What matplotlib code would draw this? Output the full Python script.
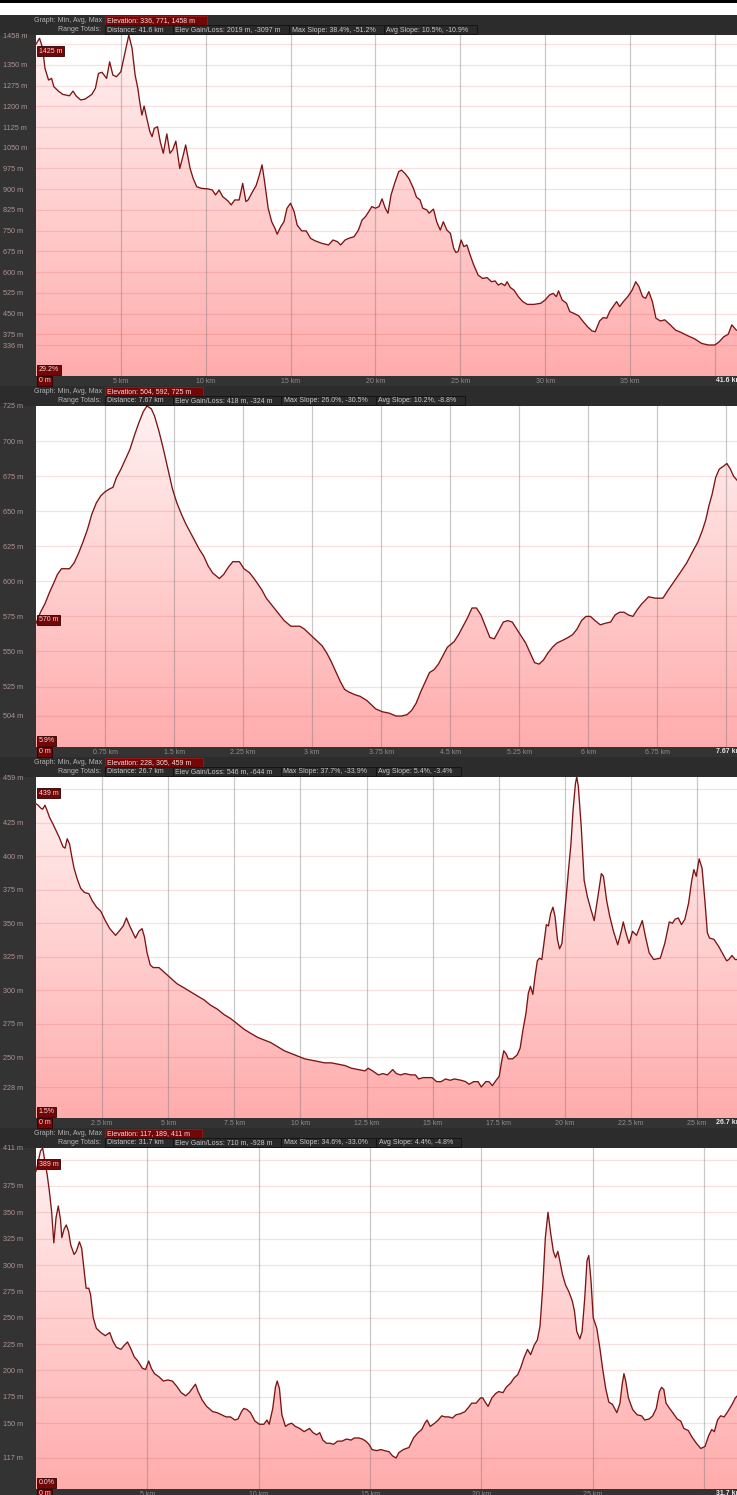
import matplotlib
matplotlib.use("Agg")
import numpy as np
import matplotlib.pyplot as plt
from matplotlib.patches import Rectangle, Polygon

plt.rcParams['font.family'] = ['Liberation Sans', 'DejaVu Sans']

W, H = 737, 1495

# ---- panel 1 ----
dist1 = [0.00, 0.21, 0.39, 0.53, 0.74, 0.92, 1.05, 1.32, 1.58, 1.97, 2.18, 2.37, 2.63, 2.89, 3.29, 3.50,
         3.68, 3.89, 4.16, 4.34, 4.53, 4.74, 5.00, 5.26, 5.47, 5.66, 5.84, 6.00, 6.11, 6.24, 6.37, 6.53,
         6.71, 6.84, 6.97, 7.16, 7.32, 7.50, 7.71, 7.89, 8.05, 8.24, 8.47, 8.63, 8.82, 9.08, 9.26, 9.47,
         9.74, 10.13, 10.39, 10.58, 10.79, 11.00, 11.32, 11.50, 11.71, 11.97, 12.18, 12.37, 12.50, 12.76,
         12.97, 13.16, 13.32, 13.47, 13.68, 13.89, 14.08, 14.21, 14.42, 14.61, 14.79, 15.00, 15.21, 15.39,
         15.66, 15.92, 16.18, 16.45, 16.84, 17.24, 17.50, 17.76, 17.95, 18.21, 18.42, 18.74, 19.00, 19.21,
         19.42, 19.61, 19.79, 20.00, 20.21, 20.39, 20.58, 20.74, 20.92, 21.13, 21.37, 21.53, 21.74, 21.97,
         22.24, 22.42, 22.63, 22.79, 23.03, 23.16, 23.42, 23.61, 23.82, 24.00, 24.21, 24.42, 24.61, 24.74,
         24.87, 25.05, 25.21, 25.39, 25.58, 25.79, 26.05, 26.32, 26.58, 26.84, 27.05, 27.24, 27.42, 27.63,
         27.76, 27.95, 28.16, 28.42, 28.68, 28.95, 29.34, 29.74, 30.00, 30.26, 30.47, 30.66, 30.79, 31.00,
         31.26, 31.45, 31.71, 31.97, 32.24, 32.50, 32.76, 32.95, 33.21, 33.42, 33.63, 33.82, 34.00, 34.21,
         34.39, 34.61, 34.87, 35.13, 35.34, 35.53, 35.74, 35.92, 36.11, 36.32, 36.53, 36.79, 37.05, 37.37,
         37.68, 38.03, 38.42, 38.82, 39.21, 39.61, 40.00, 40.26, 40.53, 40.79, 41.00, 41.26, 41.6]
elev1 = [1425, 1446, 1410, 1337, 1295, 1301, 1271, 1255, 1243, 1238, 1255, 1237, 1223, 1226, 1243, 1265,
         1319, 1323, 1301, 1361, 1313, 1307, 1325, 1398, 1458, 1410, 1313, 1265, 1217, 1168, 1201, 1156,
         1108, 1090, 1120, 1126, 1072, 1030, 1100, 1030, 1042, 1074, 975, 1012, 1060, 975, 939, 909,
         903, 901, 897, 879, 897, 873, 857, 843, 861, 861, 921, 855, 861, 891,
         913, 951, 988, 927, 831, 782, 758, 737, 764, 782, 831, 849, 819, 770,
         749, 749, 722, 713, 704, 698, 716, 710, 698, 716, 722, 728, 752, 788,
         801, 819, 837, 831, 837, 865, 831, 813, 879, 921, 963, 969, 957, 939,
         903, 871, 861, 831, 825, 813, 828, 782, 752, 782, 752, 740, 686, 671,
         674, 716, 692, 698, 662, 626, 589, 577, 580, 565, 568, 553, 559, 551,
         565, 544, 535, 511, 493, 483, 483, 487, 499, 517, 523, 511, 532, 499,
         487, 457, 450, 442, 421, 402, 387, 384, 423, 435, 433, 459, 475, 493,
         475, 493, 511, 535, 565, 547, 511, 505, 529, 493, 433, 423, 427, 409,
         390, 381, 369, 358, 342, 336, 336, 348, 366, 375, 409, 390, 384]

# ---- panel 2 ----
dist2 = [0.000, 0.049, 0.097, 0.146, 0.194, 0.233, 0.277, 0.316, 0.364, 0.413, 0.462, 0.510, 0.559,
         0.607, 0.656, 0.704, 0.753, 0.802, 0.836, 0.874, 0.923, 0.972, 1.020, 1.069, 1.117, 1.166,
         1.205, 1.253, 1.287, 1.336, 1.385, 1.433, 1.482, 1.530, 1.579, 1.627, 1.676, 1.725, 1.773,
         1.822, 1.870, 1.919, 1.992, 2.040, 2.089, 2.138, 2.210, 2.259, 2.322, 2.380, 2.453, 2.502,
         2.550, 2.599, 2.648, 2.696, 2.769, 2.818, 2.866, 2.915, 2.963, 3.012, 3.061, 3.109, 3.158,
         3.206, 3.255, 3.303, 3.352, 3.401, 3.473, 3.522, 3.595, 3.644, 3.692, 3.765, 3.838, 3.911,
         3.974, 4.032, 4.081, 4.129, 4.178, 4.226, 4.275, 4.324, 4.372, 4.421, 4.469, 4.542, 4.591,
         4.639, 4.688, 4.737, 4.785, 4.834, 4.882, 4.931, 4.979, 5.028, 5.077, 5.125, 5.174, 5.222,
         5.271, 5.320, 5.368, 5.417, 5.465, 5.514, 5.562, 5.611, 5.659, 5.723, 5.781, 5.830, 5.878,
         5.927, 5.975, 6.024, 6.073, 6.131, 6.179, 6.243, 6.291, 6.340, 6.388, 6.437, 6.485, 6.534,
         6.582, 6.655, 6.728, 6.811, 6.860, 6.923, 6.996, 7.068, 7.132, 7.190, 7.238, 7.277, 7.311,
         7.345, 7.384, 7.423, 7.467, 7.506, 7.544, 7.578, 7.617, 7.67]
elev2 = [570, 578, 584, 592, 599, 605, 609, 609, 609, 613, 620, 628, 637,
         648, 656, 661, 664, 666, 667, 674, 680, 687, 694, 704, 713, 721,
         725, 723, 718, 707, 694, 680, 666, 656, 648, 641, 635, 629, 623,
         618, 611, 606, 602, 605, 610, 614, 614, 609, 606, 601, 594, 588,
         584, 580, 576, 572, 568, 568, 568, 566, 563, 560, 557, 554, 549,
         543, 536, 529, 523, 521, 519, 518, 515, 512, 509, 507, 506, 504,
         504, 505, 508, 513, 521, 528, 535, 537, 541, 547, 553, 557, 562,
         568, 574, 581, 581, 576, 568, 560, 559, 565, 571, 572, 571, 566,
         561, 556, 549, 542, 541, 544, 549, 553, 556, 558, 560, 562, 566,
         572, 575, 575, 572, 569, 570, 571, 576, 578, 578, 576, 575, 580,
         584, 589, 588, 588, 593, 599, 606, 613, 621, 628, 636, 644, 654,
         662, 674, 680, 682, 684, 680, 675, 672, 668]

# ---- panel 3 ----
dist3 = [0.00, 0.08, 0.17, 0.25, 0.34, 0.42, 0.51, 0.64, 0.76, 0.88, 1.02, 1.10, 1.18, 1.27, 1.35,
         1.44, 1.56, 1.69, 1.83, 2.00, 2.12, 2.29, 2.45, 2.62, 2.79, 3.01, 3.18, 3.30, 3.42, 3.52,
         3.64, 3.76, 3.89, 4.01, 4.10, 4.20, 4.32, 4.43, 4.65, 4.82, 4.99, 5.16, 5.33, 5.59, 5.84,
         6.09, 6.35, 6.60, 6.86, 7.11, 7.36, 7.62, 7.87, 8.12, 8.38, 8.63, 8.89, 9.14, 9.39, 9.65,
         9.90, 10.16, 10.41, 10.66, 10.92, 11.17, 11.43, 11.68, 11.93, 12.19, 12.44, 12.56, 12.73,
         12.95, 13.12, 13.29, 13.49, 13.63, 13.79, 13.96, 14.18, 14.35, 14.47, 14.64, 14.81, 14.98,
         15.15, 15.32, 15.49, 15.66, 15.83, 16.08, 16.25, 16.38, 16.55, 16.72, 16.84, 17.01, 17.13,
         17.26, 17.40, 17.52, 17.60, 17.69, 17.77, 17.86, 18.03, 18.20, 18.31, 18.42, 18.53, 18.62,
         18.70, 18.79, 18.87, 18.96, 19.04, 19.13, 19.21, 19.30, 19.38, 19.46, 19.55, 19.63, 19.72,
         19.80, 19.89, 19.97, 20.06, 20.14, 20.23, 20.31, 20.40, 20.45, 20.51, 20.62, 20.73, 20.85,
         20.99, 21.11, 21.19, 21.29, 21.38, 21.46, 21.58, 21.70, 21.84, 22.00, 22.12, 22.21, 22.31,
         22.43, 22.56, 22.71, 22.85, 22.93, 23.05, 23.19, 23.36, 23.61, 23.78, 23.95, 24.07, 24.17,
         24.29, 24.41, 24.54, 24.68, 24.80, 24.88, 24.97, 25.08, 25.19, 25.30, 25.39, 25.47, 25.64,
         25.81, 25.98, 26.12, 26.20, 26.32, 26.44, 26.54, 26.70]
elev3 = [439, 438, 436, 435, 438, 434, 429, 424, 419, 414, 407, 406, 413, 409, 400,
         391, 383, 376, 373, 372, 367, 362, 359, 352, 346, 341, 345, 348, 354, 349,
         344, 339, 344, 346, 340, 328, 319, 317, 317, 314, 311, 308, 305, 302, 299,
         296, 293, 289, 286, 282, 279, 275, 271, 268, 265, 263, 261, 258, 255, 253,
         251, 249, 248, 247, 246, 246, 245, 244, 242, 241, 240, 242, 240,
         237, 238, 237, 241, 238, 237, 238, 237, 237, 234, 235, 235, 235,
         232, 232, 234, 233, 234, 233, 232, 230, 232, 232, 228, 232, 232,
         229, 233, 236, 246, 255, 253, 249, 249, 252, 257, 271, 283, 298,
         303, 297, 310, 322, 324, 323, 335, 349, 348, 357, 362, 355, 338,
         331, 335, 353, 372, 390, 409, 434, 454, 459, 452, 422, 382, 370,
         360, 352, 362, 375, 387, 385, 367, 355, 344, 334, 343, 351, 343,
         335, 344, 341, 348, 352, 340, 328, 323, 324, 335, 351, 350, 353,
         354, 349, 353, 365, 382, 390, 385, 398, 391, 366, 343, 339, 338,
         333, 327, 322, 323, 326, 323, 323, 323]

# ---- panel 4 ----
dist4 = [0.00, 0.10, 0.20, 0.30, 0.40, 0.50, 0.60, 0.70, 0.80, 0.90, 1.00, 1.10, 1.16, 1.26, 1.36,
         1.46, 1.56, 1.71, 1.81, 1.95, 2.05, 2.15, 2.25, 2.37, 2.45, 2.57, 2.71, 2.91, 3.11, 3.31,
         3.45, 3.61, 3.81, 3.97, 4.11, 4.25, 4.41, 4.57, 4.78, 4.92, 5.06, 5.18, 5.32, 5.52, 5.72,
         5.92, 6.12, 6.32, 6.52, 6.72, 6.88, 7.02, 7.16, 7.28, 7.46, 7.66, 7.93, 8.13, 8.33, 8.53,
         8.73, 8.93, 9.07, 9.23, 9.33, 9.47, 9.63, 9.83, 10.03, 10.23, 10.37, 10.47, 10.63, 10.75,
         10.83, 10.93, 11.04, 11.20, 11.34, 11.48, 11.64, 11.84, 12.04, 12.28, 12.44, 12.60, 12.74,
         12.88, 13.04, 13.20, 13.36, 13.54, 13.74, 13.94, 14.15, 14.29, 14.49, 14.65, 14.81, 14.95,
         15.09, 15.29, 15.49, 15.65, 15.85, 16.01, 16.17, 16.29, 16.49, 16.75, 16.95, 17.15, 17.32,
         17.46, 17.56, 17.70, 17.90, 18.06, 18.22, 18.36, 18.52, 18.70, 18.86, 19.06, 19.26, 19.42,
         19.56, 19.76, 19.96, 20.06, 20.20, 20.30, 20.47, 20.63, 20.77, 20.97, 21.11, 21.31, 21.47,
         21.63, 21.77, 21.91, 22.07, 22.21, 22.37, 22.51, 22.63, 22.75, 22.87, 22.99, 23.11, 23.23,
         23.33, 23.43, 23.52, 23.64, 23.78, 23.92, 24.08, 24.18, 24.28, 24.42, 24.52, 24.64, 24.74,
         24.82, 24.92, 25.02, 25.18, 25.32, 25.44, 25.58, 25.72, 25.88, 26.08, 26.22, 26.32, 26.40,
         26.48, 26.60, 26.79, 26.99, 27.19, 27.33, 27.53, 27.69, 27.85, 27.99, 28.09, 28.19, 28.29,
         28.45, 28.59, 28.79, 28.95, 29.09, 29.29, 29.45, 29.65, 29.85, 30.04, 30.20, 30.34, 30.46,
         30.60, 30.74, 30.90, 31.06, 31.26, 31.40, 31.54, 31.70]
elev4 = [389, 398, 408, 411, 398, 386, 370, 351, 321, 345, 356, 343, 326, 334, 338,
         332, 319, 310, 313, 322, 316, 297, 278, 278, 272, 250, 240, 236, 233, 236,
         228, 222, 220, 224, 227, 221, 213, 209, 202, 201, 209, 202, 197, 194, 190,
         191, 190, 185, 179, 176, 179, 183, 187, 180, 172, 166, 161, 160, 158, 156,
         156, 153, 154, 161, 164, 163, 160, 152, 149, 149, 153, 149, 164, 184,
         190, 183, 158, 147, 149, 150, 147, 145, 142, 145, 141, 139, 141,
         134, 131, 131, 130, 133, 133, 135, 134, 136, 136, 135, 133, 130,
         125, 124, 125, 124, 123, 119, 117, 122, 125, 127, 136, 141, 144,
         150, 153, 147, 150, 153, 157, 156, 156, 155, 158, 159, 161, 165,
         169, 169, 174, 174, 169, 166, 174, 178, 180, 179, 184, 188, 193,
         196, 203, 212, 220, 215, 224, 229, 242, 278, 326, 350, 330, 313,
         307, 313, 304, 291, 281, 275, 266, 256, 237, 230, 237, 269, 304,
         309, 285, 250, 240, 221, 202, 183, 170, 168, 160, 169, 187, 197,
         190, 174, 163, 158, 157, 153, 154, 157, 164, 180, 184, 182, 169,
         164, 160, 154, 152, 145, 143, 137, 131, 126, 128, 138, 144, 142,
         153, 157, 156, 161, 168, 174, 177, 179]

# header / axis texts
elev_stats = ["Elevation: 336, 771, 1458 m", "Elevation: 504, 592, 725 m",
              "Elevation: 228, 305, 459 m", "Elevation: 117, 189, 411 m"]
range_stats = [
    ["Distance: 41.6 km", "Elev Gain/Loss: 2019 m, -3097 m", "Max Slope: 38.4%, -51.2%", "Avg Slope: 10.5%, -10.9%"],
    ["Distance: 7.67 km", "Elev Gain/Loss: 418 m, -324 m", "Max Slope: 26.0%, -30.5%", "Avg Slope: 10.2%, -8.8%"],
    ["Distance: 26.7 km", "Elev Gain/Loss: 546 m, -644 m", "Max Slope: 37.7%, -33.9%", "Avg Slope: 5.4%, -3.4%"],
    ["Distance: 31.7 km", "Elev Gain/Loss: 710 m, -928 m", "Max Slope: 34.6%, -33.0%", "Avg Slope: 4.4%, -4.8%"],
]
totals = [41.6, 7.67, 26.7, 31.7]
total_labels = ["41.6 km", "7.67 km", "26.7 km", "31.7 km"]
slope_labels = ["29.2%", "5.9%", "1.5%", "0.0%"]
start_labels = ["1425 m", "570 m", "439 m", "389 m"]
elev_min = [336, 504, 228, 117]
elev_max = [1458, 725, 459, 411]

yticks = [
    [1458, 1350, 1275, 1200, 1125, 1050, 975, 900, 825, 750, 675, 600, 525, 450, 375, 336],
    [725, 700, 675, 650, 625, 600, 575, 550, 525, 504],
    [459, 425, 400, 375, 350, 325, 300, 275, 250, 228],
    [411, 375, 350, 325, 300, 275, 250, 225, 200, 175, 150, 117],
]
ygrid = [
    [1425, 1350, 1275, 1200, 1125, 1050, 975, 900, 825, 750, 675, 600, 525, 450, 375, 336],
    [700, 675, 650, 625, 600, 575, 550, 525, 504],
    [450, 425, 400, 375, 350, 325, 300, 275, 250, 228],
    [400, 375, 350, 325, 300, 275, 250, 225, 200, 175, 150, 117],
]
xgrid = [
    [5, 10, 15, 20, 25, 30, 35, 40],
    [0.75, 1.5, 2.25, 3, 3.75, 4.5, 5.25, 6, 6.75, 7.5],
    [2.5, 5, 7.5, 10, 12.5, 15, 17.5, 20, 22.5, 25],
    [5, 10, 15, 20, 25, 30],
]
# labels hidden where the total distance covers them
xlabels = [
    ["5 km", "10 km", "15 km", "20 km", "25 km", "30 km", "35 km", ""],
    ["0.75 km", "1.5 km", "2.25 km", "3 km", "3.75 km", "4.5 km", "5.25 km", "6 km", "6.75 km", ""],
    ["2.5 km", "5 km", "7.5 km", "10 km", "12.5 km", "15 km", "17.5 km", "20 km", "22.5 km", "25 km"],
    ["5 km", "10 km", "15 km", "20 km", "25 km", ""],
]
dists = [dist1, dist2, dist3, dist4]
elevs = [elev1, elev2, elev3, elev4]

DARK = '#333333'
HEAD = '#2c2c2c'
RED_BOX = '#730707'
LINE = '#7c1414'
FS = 5.0

fig = plt.figure(figsize=(W / 100, H / 100), dpi=100, facecolor=DARK)
bg = fig.add_axes([0, 0, 1, 1])
bg.set_xlim(0, W)
bg.set_ylim(H, 0)
bg.axis('off')
bg.add_patch(Rectangle((0, 0), W, 2.5, fc='black', ec='none'))
bg.add_patch(Rectangle((0, 2.5), W, 12.5, fc='white', ec='none'))
renderer = fig.canvas.get_renderer()

# vertical gradient, light at top to deep pink at bottom
grad = np.linspace(0, 1, 256)[:, None]
top_c = np.array([255, 242, 242]) / 255
bot_c = np.array([255, 172, 172]) / 255
grad_img = (bot_c[None, None, :] * (1 - grad[:, :, None]) + top_c[None, None, :] * grad[:, :, None])

panel_top = [15, 386, 757, 1128]
plot_h = 341
x_left = 36
x_right = 742


def box_text(x, y_top, h, text, fc, ec, tc, extra):
    t = bg.text(x + 2.5, y_top + h / 2 + 0.3, text, ha='left', va='center', fontsize=FS, color=tc, zorder=5)
    w = t.get_window_extent(renderer=renderer).width
    bg.add_patch(Rectangle((x, y_top), w + extra, h, fc=fc, ec=ec, lw=0.6, zorder=4))
    return x + w + extra


for i in range(4):
    y0 = panel_top[i]
    # header
    bg.add_patch(Rectangle((0, y0), W, 20, fc=HEAD, ec='none'))
    bg.text(102, y0 + 5.3, "Graph: Min, Avg, Max", ha='right', va='center', fontsize=FS, color='#b5b5b5')
    bg.text(101, y0 + 14.6, "Range Totals:", ha='right', va='center', fontsize=FS, color='#b5b5b5')
    box_text(105, y0 + 1, 8.8, elev_stats[i], RED_BOX, '#9a1a1a', '#f2dede', 14)
    x = 105
    for s in range_stats[i]:
        x = box_text(x, y0 + 10.4, 8.6, s, '#2a2a2a', '#111111', '#c9c9c9', 11)

    d = dists[i]
    e = elevs[i]
    lo = elev_min[i] - 0.1 * (elev_max[i] - elev_min[i])
    hi = elev_max[i]
    ax = fig.add_axes([x_left / W, 1 - (y0 + 20 + plot_h) / H, (x_right - x_left) / W, plot_h / H])
    ax.set_facecolor('white')
    for sp in ax.spines.values():
        sp.set_visible(False)

    im = ax.imshow(grad_img, extent=[0, totals[i], lo, hi], origin='lower', aspect='auto', zorder=1)
    poly = Polygon([(d[0], lo)] + list(zip(d, e)) + [(d[-1], lo)], closed=True, fc='none', ec='none')
    ax.add_patch(poly)
    im.set_clip_path(poly)

    for g in ygrid[i]:
        ax.axhline(g, color=(0.85, 0.25, 0.25, 0.16), lw=0.9, zorder=2)
    for g in xgrid[i]:
        ax.axvline(g, color=(0.45, 0.45, 0.45, 0.38), lw=0.9, zorder=2)
    ax.plot(d, e, color=LINE, lw=0.95, zorder=3, solid_joinstyle='round')

    ax.set_xlim(0, totals[i])
    ax.set_ylim(lo, hi)

    ax.set_yticks(yticks[i])
    ax.set_yticklabels(["%d m" % v for v in yticks[i]])
    ax.tick_params(axis='y', length=0, pad=23.6, labelsize=5.2, labelcolor='#b09494')
    for lab in ax.get_yticklabels():
        lab.set_ha('left')
    ax.set_xticks(xgrid[i])
    ax.set_xticklabels(xlabels[i])
    ax.tick_params(axis='x', length=0, pad=1.2, labelsize=5.0, labelcolor='#8e8e8e')

    # start elevation label
    frac = (e[0] - lo) / (hi - lo)
    lab_kw = dict(ha='left', fontsize=FS, color='#f0dada', zorder=6,
                  bbox=dict(boxstyle='square,pad=0.22', fc=RED_BOX, ec='#2a0000', lw=0.6))
    if frac > 0.9:
        ax.text(0.004, 0.962, start_labels[i], transform=ax.transAxes, va='top', **lab_kw)
    else:
        ax.text(0.004, e[0], start_labels[i], transform=ax.get_yaxis_transform(), va='bottom', **lab_kw)
    # slope label, bottom-left
    ax.text(0.004, 0.008, slope_labels[i], transform=ax.transAxes, va='bottom', **lab_kw)
    # x-axis start and total
    ax.text(0.004, -0.004, "0 m", transform=ax.transAxes, va='top', **lab_kw)
    ax.text(1.0, -0.004, total_labels[i], transform=ax.transAxes, ha='right', va='top',
            fontsize=5.0, color='#e8e8e8', fontweight='bold')

fig.savefig("out.png", dpi=100, facecolor=DARK)
